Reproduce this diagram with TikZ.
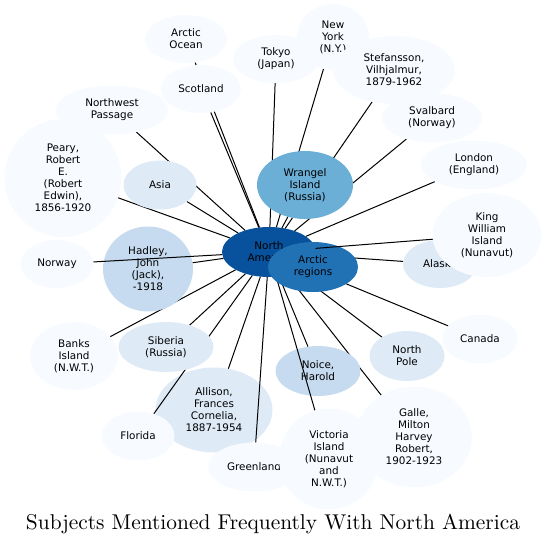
\documentclass[tikz,border=0pt]{standalone}
\usepackage{fontspec}
\newfontfamily\bubblefont{DejaVu Sans}
\newfontfamily\titlefont[Extension=.otf]{lmroman10-regular}
\usepackage{xcolor}
\definecolor{blues0}{RGB}{247,251,255}
\definecolor{blues1}{RGB}{222,235,247}
\definecolor{blues2}{RGB}{198,219,239}
\definecolor{blues3}{RGB}{107,174,214}
\definecolor{blues4}{RGB}{33,113,181}
\definecolor{blues5}{RGB}{8,81,156}
\usepackage{tikz}
\usetikzlibrary{shapes.geometric}
\pgfdeclarelayer{linkslow}
\pgfdeclarelayer{bubbleslow}
\pgfdeclarelayer{linksmid}
\pgfdeclarelayer{bubblesmid}
\pgfdeclarelayer{linkstop}
\pgfsetlayers{linkslow,bubbleslow,linksmid,bubblesmid,linkstop,main}
\tikzset{
  topic/.style   ={ellipse,inner sep=0pt,outer sep=0pt,align=center,text=black,
                   font=\bubblefont\fontsize{10.4}{12}\selectfont},
  dims/.style 2 args={minimum width=#1pt,minimum height=#2pt},
  tint0/.style   ={topic,fill=blues0},
  tint1/.style   ={topic,fill=blues1},
  tint2/.style   ={topic,fill=blues2},
  tint3/.style   ={topic,fill=blues3},
  tint4/.style   ={topic,fill=blues4},
  tint5/.style   ={topic,fill=blues5},
  link/.style    ={draw=black,line width=1pt},
}
\begin{document}
\begin{tikzpicture}[x=1pt,y=-1pt]
  \useasboundingbox (0,0) rectangle (546,546);
  % lower bubbles: hub and the ones crossed by links
  \begin{pgfonlayer}{bubbleslow}
    \node[tint5,dims={94}{50}] (na) at (269,252) {North\\America};
    \node[tint2,dims={90}{85}] (hadley) at (148,269) {Hadley,\\John\\(Jack),\\-1918};
    \node[tint2,dims={85}{50}] (noice) at (318,371) {Noice,\\Harold};
    \node[tint1,dims={117}{85}] (allison) at (214,410) {Allison,\\Frances\\Cornelia,\\1887-1954};
  \end{pgfonlayer}
  \begin{pgfonlayer}{bubblesmid}
    \node[tint4,dims={90}{50}] (arctic) at (313,267) {Arctic\\regions};
  \end{pgfonlayer}
  % outer bubbles
  \node[tint0,dims={82}{48}] (arcocean) at (186,39) {Arctic\\Ocean};
  \node[tint0,dims={86}{48}] (tokyo) at (276,59) {Tokyo\\(Japan)};
  \node[tint0,dims={72}{66}] (newyork) at (333,37) {New\\York\\(N.Y.)};
  \node[tint0,dims={122}{68}] (stefansson) at (394,70) {Stefansson,\\Vilhjalmur,\\1879-1962};
  \node[tint0,dims={80}{48}] (scotland) at (201,89) {Scotland};
  \node[tint0,dims={112}{49}] (nwpassage) at (112,110) {Northwest\\Passage};
  \node[tint0,dims={100}{49}] (svalbard) at (432,118) {Svalbard\\(Norway)};
  \node[tint0,dims={117}{118}] (peary) at (63,178) {Peary,\\Robert\\E.\\(Robert\\Edwin),\\1856-1920};
  \node[tint1,dims={73}{49}] (asia) at (160,185) {Asia};
  \node[tint3,dims={96}{68}] (wrangel) at (305,185) {Wrangel\\Island\\(Russia)};
  \node[tint0,dims={106}{49}] (london) at (474,165) {London\\(England)};
  \node[tint1,dims={74}{48}] (alaska) at (440,264) {Alaska};
  \node[tint0,dims={109}{84}] (kingwilliam) at (487,235) {King\\William\\Island\\(Nunavut)};
  \node[tint0,dims={73}{48}] (norway) at (57,264) {Norway};
  \node[tint0,dims={88}{68}] (banks) at (74,356) {Banks\\Island\\(N.W.T.)};
  \node[tint1,dims={95}{50}] (siberia) at (166,347) {Siberia\\(Russia)};
  \node[tint1,dims={75}{50}] (northpole) at (407,356) {North\\Pole};
  \node[tint0,dims={75}{49}] (canada) at (480,339) {Canada};
  \node[tint0,dims={73}{49}] (florida) at (138,436) {Florida};
  \node[tint0,dims={92}{49}] (greenland) at (254,467) {Greenland};
  \node[tint0,dims={100}{101}] (victoria) at (329,459) {Victoria\\Island\\(Nunavut\\and\\N.W.T.)};
  \node[tint0,dims={116}{101}] (galle) at (414,437) {Galle,\\Milton\\Harvey\\Robert,\\1902-1923};
  % links from the hub
  \begin{pgfonlayer}{linkslow}
    \foreach \t in {arcocean,tokyo,newyork,stefansson,scotland,nwpassage,svalbard,
                    peary,asia,wrangel,london,alaska,hadley,banks,siberia,
                    northpole,canada,noice,allison,galle}
      \draw[link] (na) -- (\t);
  \end{pgfonlayer}
  \begin{pgfonlayer}{linksmid}
    \foreach \t in {norway,florida,greenland,victoria}
      \draw[link] (na) -- (\t);
  \end{pgfonlayer}
  \begin{pgfonlayer}{linkstop}
    \draw[link] (na) -- (kingwilliam);
  \end{pgfonlayer}
  \node[font=\titlefont\fontsize{21.4}{24}\selectfont] (title) at (273,524)
    {Subjects Mentioned Frequently With North America};
\end{tikzpicture}
\end{document}
